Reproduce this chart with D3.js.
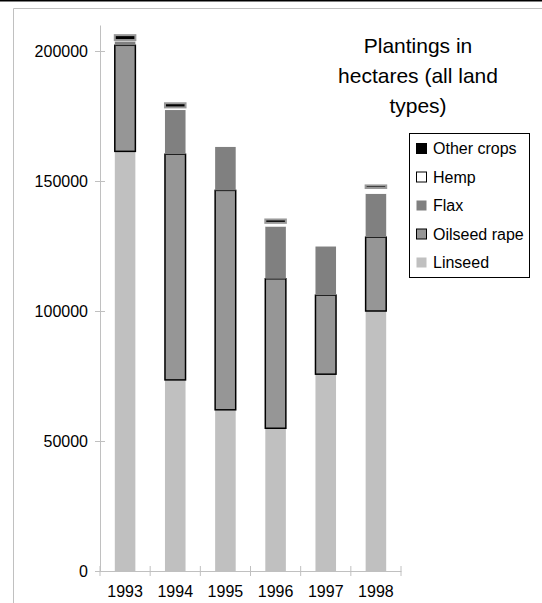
<!DOCTYPE html>
<html>
<head>
<meta charset="utf-8">
<script src="https://cdn.jsdelivr.net/npm/d3@7"></script>
<style>
    body { margin: 0; background: #fff; }
    svg { display: block; font-family: "Liberation Sans", Arial, sans-serif; }
</style>
</head>
<body>
<div id="chart"></div>
<script>

// Data (hectares)
var years = ["1993", "1994", "1995", "1996", "1997", "1998"];
var linseed     = [161400, 73500, 62000, 54900, 75700, 100000];
var oilseedRape = [40800, 86800, 84400, 57500, 30400, 28400];
var flax        = [1500, 17000, 16700, 20100, 18700, 16700];
var hemp        = [500, 1000, 0, 1400, 0, 2200];
var otherCrops  = [1900, 1600, 0, 1300, 0, 1000];

var seriesNames = ["Linseed", "Oilseed rape", "Flax", "Hemp", "Other crops"];
var yTicks = [0, 50000, 100000, 150000, 200000];
var titleLines = ["Plantings in", "hectares (all land", "types)"];

var width = 542, height = 603;

// Table for d3.stack
var rows = years.map(function(y, i) {
    return {
        year: y,
        "Linseed": linseed[i],
        "Oilseed rape": oilseedRape[i],
        "Flax": flax[i],
        "Hemp": hemp[i],
        "Other crops": otherCrops[i]
    };
});

var styles = {
    "Linseed":      {fill: "#c0c0c0", stroke: "none", sw: 0},
    "Oilseed rape": {fill: "#969696", stroke: "#000", sw: 1.5},
    "Flax":         {fill: "#808080", stroke: "none", sw: 0},
    "Hemp":         {fill: "#ffffff", stroke: "none", sw: 0},
    "Other crops":  {fill: "#000000", stroke: "#999999", sw: 2}
};

var svg = d3.select("#chart").append("svg")
    .attr("width", width)
    .attr("height", height);

// frame lines
svg.append("rect").attr("x", 0).attr("y", 0).attr("width", width).attr("height", 1.5).attr("fill", "#000");
svg.append("path")
    .attr("d", "M13.5," + height + "V8.5H" + width)
    .attr("fill", "none")
    .attr("stroke", "#c0c0c0");

// Scales
var x = d3.scaleBand()
    .domain(years)
    .range([100, 401])
    .paddingInner(0.59)
    .paddingOuter(0.295);

var y = d3.scaleLinear()
    .domain([0, 210000])
    .range([571, 25]);

var axisColor = "#c0c0c0";

// y axis
var yAxis = svg.append("g")
    .attr("transform", "translate(100,0)")
    .call(d3.axisLeft(y).tickValues(yTicks).tickFormat(d3.format("d")).tickSize(0).tickPadding(12));
yAxis.select(".domain").attr("stroke", axisColor);
yAxis.selectAll(".tick line").remove();
yAxis.selectAll(".tick").append("line")
    .attr("x1", -5).attr("x2", 5)
    .attr("stroke", axisColor);
yAxis.selectAll(".tick text")
    .attr("font-size", 16)
    .attr("font-family", "Liberation Sans, Arial, sans-serif")
    .attr("fill", "#000");

// x axis
var xAxis = svg.append("g")
    .attr("transform", "translate(0," + y(0) + ")")
    .call(d3.axisBottom(x).tickSize(0).tickPadding(15));
xAxis.select(".domain").attr("stroke", axisColor);
xAxis.selectAll(".tick text")
    .attr("font-size", 16)
    .attr("font-family", "Liberation Sans, Arial, sans-serif")
    .attr("fill", "#000");
// tick marks between categories
xAxis.selectAll(".sep")
    .data(d3.range(years.length + 1))
    .enter().append("line")
    .attr("x1", function(i) { return x.range()[0] + i * x.step(); })
    .attr("x2", function(i) { return x.range()[0] + i * x.step(); })
    .attr("y1", -5).attr("y2", 5)
    .attr("stroke", axisColor);

// Stacked bars
var stacked = d3.stack().keys(seriesNames)(rows);

var layers = svg.selectAll(".layer")
    .data(stacked)
    .enter().append("g")
    .attr("class", "layer");

layers.selectAll("rect")
    .data(function(s) { return s.map(function(d) { d.key = s.key; return d; }); })
    .enter().append("rect")
    .filter(function(d) { return d[1] - d[0] > 0; })
    .attr("x", function(d) { return x(d.data.year); })
    .attr("width", x.bandwidth())
    .attr("y", function(d) { return y(d[1]); })
    .attr("height", function(d) { return y(d[0]) - y(d[1]); })
    .attr("fill", function(d) { return styles[d.key].fill; })
    .attr("stroke", function(d) { return styles[d.key].stroke; })
    .attr("stroke-width", function(d) { return styles[d.key].sw; });

// Title
svg.append("text")
    .attr("text-anchor", "middle")
    .attr("font-size", 21)
    .selectAll("tspan")
    .data(titleLines)
    .enter().append("tspan")
    .attr("x", 418)
    .attr("y", function(d, i) { return 53 + i * 30; })
    .text(function(d) { return d; });

// Legend
var legend = svg.append("g");
legend.append("rect")
    .attr("x", 409.5).attr("y", 133.5)
    .attr("width", 120).attr("height", 144)
    .attr("fill", "#fff")
    .attr("stroke", "#000");

var legendItems = seriesNames.slice().reverse();
var legendStyles = {
    "Other crops":  {fill: "#000", stroke: "#000"},
    "Hemp":         {fill: "#fff", stroke: "#000"},
    "Flax":         {fill: "#808080", stroke: "none"},
    "Oilseed rape": {fill: "#969696", stroke: "#000"},
    "Linseed":      {fill: "#c0c0c0", stroke: "none"}
};

var item = legend.selectAll(".item")
    .data(legendItems)
    .enter().append("g")
    .attr("transform", function(d, i) { return "translate(0," + (148.5 + i * 28.5) + ")"; });

item.append("rect")
    .attr("x", 416.5).attr("y", -5)
    .attr("width", 10).attr("height", 10)
    .attr("fill", function(d) { return legendStyles[d].fill; })
    .attr("stroke", function(d) { return legendStyles[d].stroke; });

item.append("text")
    .attr("x", 433)
    .attr("y", 5.5)
    .attr("font-size", 16)
    .text(function(d) { return d; });

</script>
</body>
</html>
